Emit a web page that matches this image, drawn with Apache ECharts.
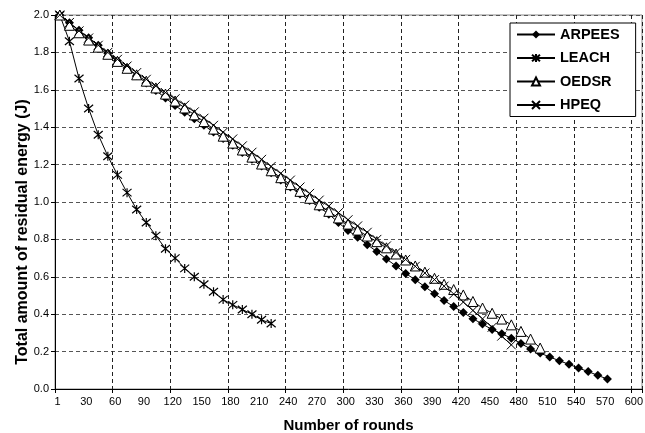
<!DOCTYPE html>
<html>
<head>
<meta charset="utf-8">
<script src="https://cdn.jsdelivr.net/npm/echarts@6/dist/echarts.min.js"></script>
<style>
  html, body { margin: 0; padding: 0; background: #fff; }
  #chart { width: 645px; height: 433px; }
</style>
</head>
<body>
<div id="chart"></div>
<script>
// rounds and residual energy (J)
var arpeesRounds = [5,15,25,35,45,55,65,75,85,95,105,115,125,135,145,155,165,175,185,195,205,215,225,235,245,255,265,275,285,295,305,315,325,335,345,355,365,375,385,395,405,415,425,435,445,455,465,475,485,495,505,515,525,535,545,555,565,575];
var arpeesEnergy = [2.00,1.958,1.918,1.878,1.838,1.796,1.756,1.716,1.676,1.636,1.596,1.556,1.516,1.48,1.445,1.41,1.375,1.34,1.304,1.265,1.228,1.192,1.157,1.117,1.08,1.043,1.008,0.972,0.935,0.89,0.847,0.812,0.772,0.735,0.695,0.658,0.618,0.584,0.547,0.51,0.473,0.441,0.409,0.376,0.347,0.318,0.295,0.272,0.243,0.214,0.192,0.171,0.151,0.132,0.112,0.093,0.073,0.053];

var leachRounds = [5,15,25,35,45,55,65,75,85,95,105,115,125,135,145,155,165,175,185,195,205,215,225];
var leachEnergy = [2.00,1.86,1.66,1.50,1.36,1.245,1.145,1.05,0.96,0.89,0.82,0.75,0.70,0.645,0.60,0.56,0.52,0.478,0.45,0.425,0.40,0.37,0.35];

var oedsrRounds = [5,15,25,35,45,55,65,75,85,95,105,115,125,135,145,155,165,175,185,195,205,215,225,235,245,255,265,275,285,295,305,315,325,335,345,355,365,375,385,395,405,415,425,435,445,455,465,475,485,495,505];
var oedsrEnergy = [2.00,1.945,1.905,1.866,1.828,1.79,1.752,1.715,1.68,1.646,1.61,1.577,1.54,1.503,1.466,1.43,1.39,1.352,1.315,1.278,1.24,1.203,1.167,1.13,1.093,1.057,1.02,0.985,0.95,0.915,0.882,0.85,0.818,0.788,0.755,0.722,0.69,0.658,0.625,0.592,0.56,0.532,0.503,0.468,0.433,0.405,0.374,0.343,0.308,0.267,0.219];

var hpeqRounds = [5,15,25,35,45,55,65,75,85,95,105,115,125,135,145,155,165,175,185,195,205,215,225,235,245,255,265,275,285,295,305,315,325,335,345,355,365,375,385,395,405,415,425,435,445,455,465,475];
var hpeqEnergy = [2.00,1.96,1.915,1.877,1.838,1.80,1.763,1.727,1.692,1.656,1.62,1.585,1.552,1.518,1.482,1.448,1.41,1.373,1.337,1.30,1.266,1.228,1.19,1.153,1.117,1.08,1.046,1.01,0.978,0.943,0.905,0.872,0.838,0.80,0.765,0.73,0.693,0.656,0.62,0.585,0.55,0.508,0.465,0.42,0.375,0.33,0.283,0.236];

var seriesNames = ['ARPEES', 'LEACH', 'OEDSR', 'HPEQ'];

function pairs(xs, ys) {
  var out = [];
  for (var i = 0; i < xs.length; i++) out.push([xs[i], ys[i]]);
  return out;
}

var FONT = 'Liberation Sans, Arial, sans-serif';
var crossPath = 'path://M0,0L10,10M10,0L0,10';
var starPath = 'path://M0,0L10,10M10,0L0,10M5,-1L5,11';

var gridTop = 15, gridBottom = 44;
var plotH = 433 - gridTop - gridBottom;

var chart = echarts.init(document.getElementById('chart'));
chart.setOption({
  animation: false,
  backgroundColor: '#fff',
  textStyle: { fontFamily: FONT },
  grid: {
    left: 55, right: 3, top: gridTop, bottom: gridBottom,
    containLabel: false, outerBoundsMode: 'none',
    show: true, borderColor: '#888', borderWidth: 1
  },
  legend: {
    orient: 'vertical',
    left: 510, top: 23,
    data: seriesNames,
    backgroundColor: '#fff',
    borderColor: '#000', borderWidth: 1, borderRadius: 0,
    padding: [4, 16, 4, 6],
    itemGap: 8.5,
    itemWidth: 38, itemHeight: 10,
    textStyle: { fontFamily: FONT, fontSize: 14.5, fontWeight: 'bold', color: '#000' }
  },
  xAxis: [
    {
      // labels every 30 rounds
      type: 'value', min: 0, max: 611, interval: 30,
      position: 'bottom',
      name: 'Number of rounds', nameLocation: 'middle', nameGap: 29,
      nameMoveOverlap: false,
      nameTextStyle: { fontFamily: FONT, fontSize: 15, fontWeight: 'bold', color: '#000' },
      axisLine: { show: true, lineStyle: { color: '#000', width: 1 } },
      axisTick: { show: false },
      splitLine: { show: false },
      axisLabel: {
        fontFamily: FONT, fontSize: 11, color: '#000', margin: 7,
        padding: [0, 0, 0, 5],
        formatter: function (v) {
          if (v === 0) return '1';
          if (v % 30 !== 0) return '';
          return String(v);
        }
      }
    },
    {
      // gridlines and ticks every 60 rounds
      type: 'value', min: 0, max: 611, interval: 60,
      position: 'top', offset: -plotH,
      axisLine: { show: false },
      axisTick: { show: true, inside: true, length: 4, lineStyle: { color: '#000' } },
      axisLabel: { show: false },
      splitLine: { show: true, lineStyle: { color: '#222', type: [4, 3], width: 1 } }
    }
  ],
  yAxis: {
    type: 'value', min: 0, max: 2, interval: 0.2,
    name: 'Total amount of residual energy (J)', nameLocation: 'middle', nameGap: 24,
    nameMoveOverlap: false,
    nameTextStyle: {
      fontFamily: FONT, fontSize: 16, fontWeight: 'bold', color: '#000',
      padding: [0, 60, 0, 0]
    },
    axisLine: { show: true, lineStyle: { color: '#000', width: 1 } },
    axisTick: { show: true, length: 4, lineStyle: { color: '#000' } },
    axisLabel: {
      fontFamily: FONT, fontSize: 11, color: '#000', margin: 6,
      formatter: function (v) { return v.toFixed(1); }
    },
    splitLine: { show: true, lineStyle: { color: '#555', type: [4, 3], width: 1 } }
  },
  series: [
    {
      name: 'ARPEES', type: 'line', data: pairs(arpeesRounds, arpeesEnergy),
      symbol: 'diamond', symbolSize: 9,
      lineStyle: { color: '#000', width: 1 },
      itemStyle: { color: '#000', borderColor: '#000', borderWidth: 0 }
    },
    {
      name: 'LEACH', type: 'line', data: pairs(leachRounds, leachEnergy),
      symbol: starPath, symbolSize: 9,
      lineStyle: { color: '#000', width: 1 },
      itemStyle: { color: 'rgba(0,0,0,0)', borderColor: '#000', borderWidth: 1.2 }
    },
    {
      name: 'OEDSR', type: 'line', data: pairs(oedsrRounds, oedsrEnergy),
      symbol: 'triangle', symbolSize: 10,
      lineStyle: { color: '#000', width: 1 },
      itemStyle: { color: '#fff', borderColor: '#000', borderWidth: 1 }
    },
    {
      name: 'HPEQ', type: 'line', data: pairs(hpeqRounds, hpeqEnergy),
      symbol: crossPath, symbolSize: 9,
      lineStyle: { color: '#000', width: 1 },
      itemStyle: { color: 'rgba(0,0,0,0)', borderColor: '#000', borderWidth: 1 }
    }
  ]
});
</script>
</body>
</html>
